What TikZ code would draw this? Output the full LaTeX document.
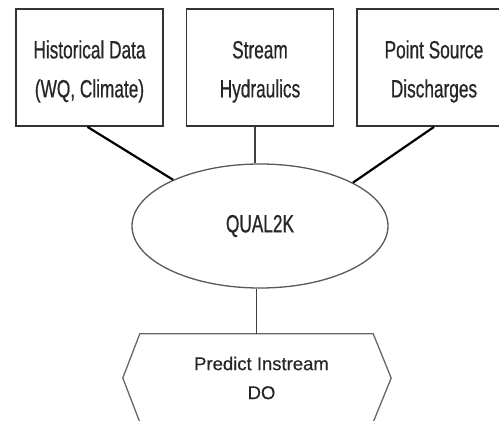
\documentclass[tikz,border=0pt]{standalone}
\usepackage{fontspec}
\setmainfont{Liberation Sans}[FakeStretch=0.69,FakeBold=0.6]
\newfontfamily\plainfont{Liberation Sans}[FakeBold=0.4]
\usetikzlibrary{shapes.geometric}
\tikzset{
  inbox/.style={draw=black!80, line width=1.8pt, rectangle, minimum width=147pt, minimum height=117pt,
    inner sep=0pt, align=center, text=black!85, font=\fontsize{25}{39}\selectfont},
  hub/.style={draw=black!65, line width=1.3pt, ellipse, minimum width=256pt, minimum height=124pt,
    inner sep=0pt, text=black!85, font=\fontsize{25}{28}\selectfont},
  outbox/.style={rectangle, minimum width=233pt, minimum height=88pt, inner sep=0pt, align=center,
    text=black!85, font=\plainfont\fontsize{18.5}{29}\selectfont},
  hexline/.style={draw=black!60, line width=1.3pt},
  diag/.style={draw=black, line width=2.2pt},
  vert/.style={draw=black!75, line width=1.8pt}
}
\begin{document}
\begin{tikzpicture}[x=1pt,y=-1pt]
\useasboundingbox (0,0) rectangle (499,421);
\clip (0,0) rectangle (499,421);
\node[inbox] (b1) at (89.5,67.5) {\rule{0pt}{26pt}Historical Data\\(WQ, Climate)};
\node[inbox] (b2) at (260,67.5) {\rule{0pt}{26pt}Stream\\Hydraulics};
\node[inbox, minimum width=154pt] (b3) at (434,67.5) {\rule{0pt}{26pt}Point Source\\Discharges};
\node[hub] (q) at (260,226) {\raisebox{3pt}{QUAL2K}};
\node[outbox] (p) at (256.5,378) {\hspace*{10pt}Predict Instream\\\hspace*{10pt}DO};
\draw[hexline] (p.north west) -- (p.north east) -- ([xshift=18pt]p.east) -- (p.south east)
  -- (p.south west) -- ([xshift=-17pt]p.west) -- cycle;
\draw[diag] ([xshift=-2pt]b1.south) -- (q.152);
\draw[vert] ([xshift=-5pt]b2.south) -- ([xshift=-5pt]q.north);
\draw[diag] (b3.south) -- (q.25);
\draw[vert] (q.south -| p.north) -- (p.north);
\end{tikzpicture}
\end{document}
